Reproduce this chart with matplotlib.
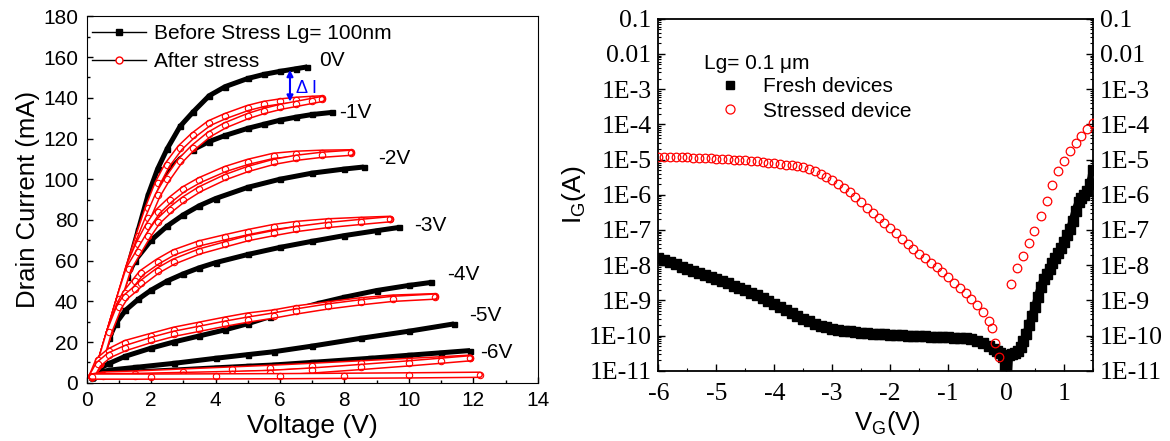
import numpy as np
import matplotlib.pyplot as plt
from matplotlib.lines import Line2D
from matplotlib.ticker import MultipleLocator, LogLocator, NullFormatter

# ---------------- left panel: drain current (mA) vs drain voltage (V) ----------------
# before stress, one curve per gate voltage
b0_vd = [0.15, 0.4, 0.7, 1.0, 1.3, 1.6, 1.9, 2.2, 2.5, 2.9, 3.3, 3.8, 4.3, 5.0, 5.5, 6.0, 6.5, 6.85]
b0_id = [3, 9, 25, 41, 58, 75, 92, 105, 115, 126, 133, 141, 145.5, 149.5, 151.5, 153, 154.3, 155.2]
b1_vd = [0.15, 0.4, 0.7, 1.0, 1.3, 1.6, 1.9, 2.2, 2.5, 2.9, 3.3, 3.8, 4.3, 5.0, 5.5, 6.0, 6.5, 7.0, 7.6]
b1_id = [3, 9, 25, 41, 57, 72, 85, 96, 103.5, 110, 114.5, 118.5, 121.5, 125, 127, 129, 130.5, 131.8, 132.8]
b2_vd = [0.15, 0.4, 0.7, 1.0, 1.25, 1.5, 2.0, 2.5, 3.0, 3.5, 4.0, 5.0, 6.0, 7.0, 8.0, 8.6]
b2_id = [3, 9, 25, 40, 52, 60, 70, 77, 82.5, 87, 90.5, 96, 100, 103, 105, 106]
b3_vd = [0.15, 0.4, 0.7, 0.9, 1.2, 1.6, 2.0, 2.5, 3.0, 3.5, 4.0, 5.0, 6.0, 7.0, 8.0, 9.0, 9.7]
b3_id = [3, 9, 22, 29, 35.5, 41, 45.5, 50, 53.5, 56.5, 59, 63, 66.5, 69.5, 72.3, 74.7, 76.3]
b4_vd = [0.15, 0.4, 0.7, 1.2, 2.0, 2.7, 3.5, 4.3, 5.0, 5.7, 6.5, 7.2, 8.0, 9.0, 10.0, 10.7]
b4_id = [3, 7, 9.5, 13, 17, 20, 23, 26, 29, 32.5, 36, 39, 42, 45.3, 47.8, 49.3]
b5_vd = [0.15, 0.4, 0.7, 1.5, 2.7, 4.0, 5.0, 5.8, 7.0, 8.5, 10.0, 11.4]
b5_id = [3, 5, 6.2, 7.5, 9.5, 12, 13.8, 15.2, 18, 21.8, 25.3, 28.9]
b6_vd = [0.15, 0.5, 1.5, 2.7, 4.0, 5.0, 5.8, 7.0, 8.8, 10.0, 11.0, 11.9]
b6_id = [3, 4.3, 5.3, 6.2, 7.3, 8.1, 8.7, 10, 12, 13.5, 14.7, 15.8]

# after stress, two sweeps (up / down) per gate voltage
a0_vd = [0.15, 0.4, 0.7, 1.0, 1.3, 1.6, 1.9, 2.2, 2.5, 2.9, 3.3, 3.8, 4.3, 5.0, 5.5, 6.0, 6.5, 7.0, 7.3]
a0_id_up = [3, 9, 25, 41, 57, 72, 86, 98, 107, 115.5, 121.5, 127.5, 131, 135, 137, 138.2, 139, 139.5, 139.7]
a0_id_dn = [3, 9, 25, 41, 56, 69, 81, 92, 100, 109, 115.5, 122, 126.5, 131, 133.5, 135.5, 137, 138.5, 139.4]
a1_vd = [0.15, 0.4, 0.7, 1.0, 1.3, 1.6, 1.9, 2.2, 2.6, 3.0, 3.5, 4.3, 5.0, 5.8, 6.5, 7.3, 8.2]
a1_id_up = [3, 9, 25, 41, 57, 68, 77, 84, 90, 95, 99.5, 105, 108.5, 111.5, 112.5, 113, 113.2]
a1_id_dn = [3, 9, 25, 41, 56, 64, 72, 79, 85, 90, 95, 101, 105, 108.5, 110.5, 112, 113]
a2_vd = [0.15, 0.4, 0.7, 1.0, 1.2, 1.5, 1.7, 2.2, 2.7, 3.5, 4.3, 5.0, 5.8, 6.5, 7.5, 8.5, 9.4]
a2_id_up = [3, 9, 25, 38, 44, 50, 54, 59.5, 64, 68.5, 71.5, 74, 76.5, 78, 79.3, 80, 80.5]
a2_id_dn = [3, 9, 25, 37, 42, 46, 49, 55, 59.5, 64.5, 68, 71, 73.5, 75.5, 77.5, 79, 80.3]
a3_vd = [0.15, 0.36, 0.7, 1.2, 2.0, 2.7, 3.5, 4.3, 5.0, 5.8, 6.5, 7.5, 8.5, 9.5, 10.8]
a3_id_up = [3, 11, 15.5, 19.5, 23, 26, 28.5, 31, 33, 34.5, 36.5, 38.5, 40.5, 41.8, 42.5]
a3_id_dn = [3, 9, 13.5, 17, 21, 24, 26.5, 29, 31, 33, 35, 37.5, 39.5, 41.2, 42.3]
a4_vd = [0.15, 0.5, 1.5, 3.0, 4.5, 5.7, 7.0, 8.5, 10.0, 11.0, 11.9]
a4_id_up = [3, 4, 4.5, 5.5, 6.5, 7.3, 8.3, 9.5, 10.7, 11.5, 12.3]
a4_id_dn = [3, 3.2, 3.3, 3.8, 4.3, 4.8, 6, 7.7, 9.5, 10.8, 12]
a5_vd = [0.15, 2, 4, 6, 8, 10, 12.2]
a5_id = [3, 3, 3.1, 3.2, 3.4, 3.6, 3.9]

vg_labels = ['0V', '-1V', '-2V', '-3V', '-4V', '-5V', '-6V']
vg_label_vd = [7.21, 7.82, 9.05, 10.16, 11.19, 11.87, 12.21]
vg_label_id = [158.5, 132.7, 110.1, 77.1, 53.4, 33.0, 15.0]

# ---------------- right panel: gate current (log10 A) vs gate voltage ----------------
vg_fresh = [-6.0, -5.9, -5.8, -5.7, -5.6, -5.5, -5.4, -5.3, -5.2, -5.1, -5.0, -4.9, -4.8, -4.7,
            -4.6, -4.5, -4.4, -4.3, -4.2, -4.1, -4.0, -3.9, -3.8, -3.7, -3.6, -3.5, -3.4, -3.3,
            -3.2, -3.1, -3.0, -2.9, -2.8, -2.7, -2.6, -2.5, -2.4, -2.3, -2.2, -2.1, -2.0, -1.9,
            -1.8, -1.7, -1.6, -1.5, -1.4, -1.3, -1.2, -1.1, -1.0, -0.9, -0.8, -0.7, -0.6, -0.5,
            -0.4, -0.3, -0.2, -0.15, -0.1, -0.05, -0.02, 0.0, 0.03, 0.05, 0.1, 0.15, 0.2, 0.25,
            0.3, 0.35, 0.4, 0.45, 0.5, 0.55, 0.6, 0.65, 0.7, 0.75, 0.8, 0.85, 0.9, 0.95, 1.0,
            1.05, 1.1, 1.15, 1.2, 1.25, 1.3, 1.35, 1.4, 1.45, 1.5]
ig_fresh_log = [-7.80, -7.86, -7.92, -7.98, -8.04, -8.10, -8.16, -8.22, -8.28, -8.34, -8.40,
                -8.46, -8.52, -8.59, -8.66, -8.72, -8.79, -8.86, -8.94, -9.02, -9.10, -9.19,
                -9.28, -9.37, -9.46, -9.53, -9.60, -9.66, -9.72, -9.77, -9.81, -9.84, -9.86,
                -9.88, -9.90, -9.92, -9.94, -9.95, -9.96, -9.97, -9.98, -9.99, -9.99, -10.00,
                -10.01, -10.01, -10.02, -10.03, -10.03, -10.04, -10.05, -10.06, -10.07, -10.08,
                -10.11, -10.15, -10.22, -10.30, -10.38, -10.44, -10.50, -10.62, -10.85, -11.2,
                -11.2, -10.55, -10.52, -10.50, -10.45, -10.32, -10.15, -9.95, -9.70, -9.45,
                -9.20, -8.90, -8.62, -8.40, -8.25, -8.10, -7.95, -7.80, -7.65, -7.50, -7.35,
                -7.15, -6.98, -6.75, -6.45, -6.22, -6.10, -6.00, -5.90, -5.70, -5.30]

vg_stressed = [-6.0, -5.9, -5.8, -5.7, -5.6, -5.5, -5.4, -5.3, -5.2, -5.1, -5.0, -4.9, -4.8,
               -4.7, -4.6, -4.5, -4.4, -4.3, -4.2, -4.1, -4.0, -3.9, -3.8, -3.7, -3.6, -3.5,
               -3.4, -3.3, -3.2, -3.1, -3.0, -2.9, -2.8, -2.7, -2.6, -2.5, -2.4, -2.3, -2.2,
               -2.1, -2.0, -1.9, -1.8, -1.7, -1.6, -1.5, -1.4, -1.3, -1.2, -1.1, -1.0, -0.9,
               -0.8, -0.7, -0.6, -0.5, -0.4, -0.3, -0.25, -0.19, -0.12,
               0.09, 0.19, 0.29, 0.39, 0.49, 0.6, 0.7, 0.8, 0.9, 1.0, 1.1, 1.2, 1.3, 1.4, 1.5]
ig_stressed_log = [-4.92, -4.925, -4.93, -4.93, -4.935, -4.94, -4.95, -4.955, -4.965, -4.97,
                   -4.98, -4.985, -4.99, -5.0, -5.01, -5.02, -5.03, -5.05, -5.07, -5.09, -5.11,
                   -5.13, -5.15, -5.17, -5.19, -5.22, -5.27, -5.32, -5.40, -5.49, -5.58, -5.69,
                   -5.80, -5.93, -6.07, -6.22, -6.37, -6.52, -6.66, -6.80, -6.95, -7.10, -7.26,
                   -7.40, -7.55, -7.68, -7.81, -7.94, -8.06, -8.19, -8.34, -8.50, -8.65, -8.80,
                   -8.95, -9.12, -9.32, -9.60, -9.80, -10.22, -10.62,
                   -8.55, -8.09, -7.73, -7.38, -7.02, -6.61, -6.17, -5.72, -5.34, -5.05, -4.77,
                   -4.53, -4.32, -4.13, -3.96]

ig_ticks = [1e-1, 1e-2, 1e-3, 1e-4, 1e-5, 1e-6, 1e-7, 1e-8, 1e-9, 1e-10, 1e-11]
ig_ticklabels = ['0.1', '0.01', '1E-3', '1E-4', '1E-5', '1E-6', '1E-7', '1E-8', '1E-9',
                 '1E-10', '1E-11']

SANS = 'Liberation Sans'
SERIF = 'Liberation Serif'
plt.rcParams['font.family'] = SANS
plt.rcParams['axes.unicode_minus'] = False


def draw_before(ax, vd, cur):
    ax.plot(vd, cur, color='k', lw=3.6, marker='s', ms=3.6,
            solid_capstyle='butt', zorder=2)


def draw_after(ax, vd, cur):
    # chain of small open circles
    ax.plot(vd, cur, color='red', lw=4.8, solid_capstyle='round', zorder=3)
    ax.plot(vd, cur, color='white', lw=2.6, solid_capstyle='round', zorder=3)
    ax.plot(vd, cur, ls='none', marker='o', ms=4.6, mfc='none', mec='red', mew=0.8, zorder=3)


fig = plt.figure(figsize=(11.7, 4.41), dpi=100)

# ---- left ----
ax1 = fig.add_axes([0.0741, 0.1322, 0.3855, 0.8306])
for vd, cur in [(b0_vd, b0_id), (b1_vd, b1_id), (b2_vd, b2_id), (b3_vd, b3_id),
                (b4_vd, b4_id), (b5_vd, b5_id), (b6_vd, b6_id)]:
    draw_before(ax1, vd, cur)
for vd, up, dn in [(a0_vd, a0_id_up, a0_id_dn), (a1_vd, a1_id_up, a1_id_dn),
                   (a2_vd, a2_id_up, a2_id_dn), (a3_vd, a3_id_up, a3_id_dn),
                   (a4_vd, a4_id_up, a4_id_dn)]:
    draw_after(ax1, vd, up)
    draw_after(ax1, vd, dn)
draw_after(ax1, a5_vd, a5_id)

for lab, x, y in zip(vg_labels, vg_label_vd, vg_label_id):
    ax1.text(x, y, lab, fontsize=15, ha='left', va='center')

ax1.annotate('', xy=(6.31, 153.7), xytext=(6.31, 138.1),
             arrowprops=dict(arrowstyle='<|-|>', color='blue', lw=1.5,
                             mutation_scale=9, shrinkA=0, shrinkB=0))
ax1.text(6.5, 144.7, '\u0394 I', color='blue', fontsize=13, ha='left', va='center')

ax1.set_xlim(0, 14)
ax1.set_ylim(0, 180)
ax1.xaxis.set_major_locator(MultipleLocator(2))
ax1.xaxis.set_minor_locator(MultipleLocator(1))
ax1.yaxis.set_major_locator(MultipleLocator(20))
ax1.yaxis.set_minor_locator(MultipleLocator(10))
ax1.tick_params(which='both', direction='in', top=False, right=False, labelsize=15)
ax1.tick_params(axis='x', pad=6)
ax1.tick_params(axis='y', pad=6)
ax1.tick_params(which='major', length=4, width=1)
ax1.tick_params(which='minor', length=2.5, width=1)
ax1.set_xlabel('Voltage (V)', fontsize=19)
ax1.xaxis.set_label_coords(0.5, -0.086)
ax1.set_ylabel('Drain Current (mA)', fontsize=18.5, labelpad=2)

h_before = Line2D([], [], color='k', lw=1, marker='s', ms=4, mfc='k', mec='k')
h_after = Line2D([], [], color='k', lw=1, marker='o', ms=5, mfc='white', mec='red', mew=1)
ax1.legend([h_before, h_after], ['Before Stress Lg= 100nm', 'After stress'],
           loc='upper left', bbox_to_anchor=(0.012, 0.978), frameon=False, fontsize=15,
           borderpad=0, borderaxespad=0, handlelength=2.6, handletextpad=0.35,
           labelspacing=0.4)

# ---- right ----
ax2 = fig.add_axes([0.5627, 0.1594, 0.3715, 0.7982])
ax2.set_yscale('log')
ax2.plot(vg_fresh, 10.0 ** np.array(ig_fresh_log), color='k', lw=6, marker='s', ms=7,
         solid_capstyle='butt', zorder=2)
ax2.plot(vg_stressed, 10.0 ** np.array(ig_stressed_log), ls='none', marker='o', ms=6.2,
         mfc='none', mec='red', mew=0.9, zorder=3)
ax2.set_xlim(-6, 1.5)
ax2.set_ylim(1e-11, 1e-1)
ax2.set_yticks(ig_ticks)
ax2.set_yticklabels(ig_ticklabels)
ax2.yaxis.set_minor_locator(LogLocator(base=10, subs=np.arange(2, 10), numticks=20))
ax2.yaxis.set_minor_formatter(NullFormatter())
ax2.xaxis.set_major_locator(MultipleLocator(1))
ax2.xaxis.set_minor_locator(MultipleLocator(0.5))
ax2.tick_params(which='both', direction='in', left=True, right=True, top=False,
                labelright=True, labelsize=18.5)
ax2.tick_params(which='major', length=5, width=1)
ax2.tick_params(which='minor', length=2.5, width=0.8)
ax2.tick_params(axis='x', pad=9)
ax2.tick_params(axis='y', pad=5)
for lab in ax2.get_xticklabels() + ax2.get_yticklabels():
    lab.set_fontfamily(SERIF)
for t in ax2.yaxis.get_major_ticks():
    t.label2.set_fontfamily(SERIF)
for sp in ax2.spines.values():
    sp.set_linewidth(1.3)

ax2.set_xlabel('V$_\\mathregular{G}$(V)', fontsize=18.5)
ax2.xaxis.set_label_coords(0.527, -0.11)
ax2.set_ylabel('I$_\\mathregular{G}$(A)', fontsize=19, labelpad=0)

ax2.text(0.105, 0.872, 'Lg= 0.1 \u03bcm', transform=ax2.transAxes, fontsize=15,
         ha='left', va='center')
h_fresh = Line2D([], [], ls='none', marker='s', ms=6, color='k')
h_str = Line2D([], [], ls='none', marker='o', ms=6.5, mfc='none', mec='red', mew=0.9)
ax2.legend([h_fresh, h_str], ['Fresh devices', 'Stressed device'], loc='upper left',
           bbox_to_anchor=(0.142, 0.833), frameon=False, fontsize=15, borderpad=0,
           borderaxespad=0, handlelength=1.0, handletextpad=1.06, labelspacing=0.25)

fig.savefig('out.png', dpi=100)
